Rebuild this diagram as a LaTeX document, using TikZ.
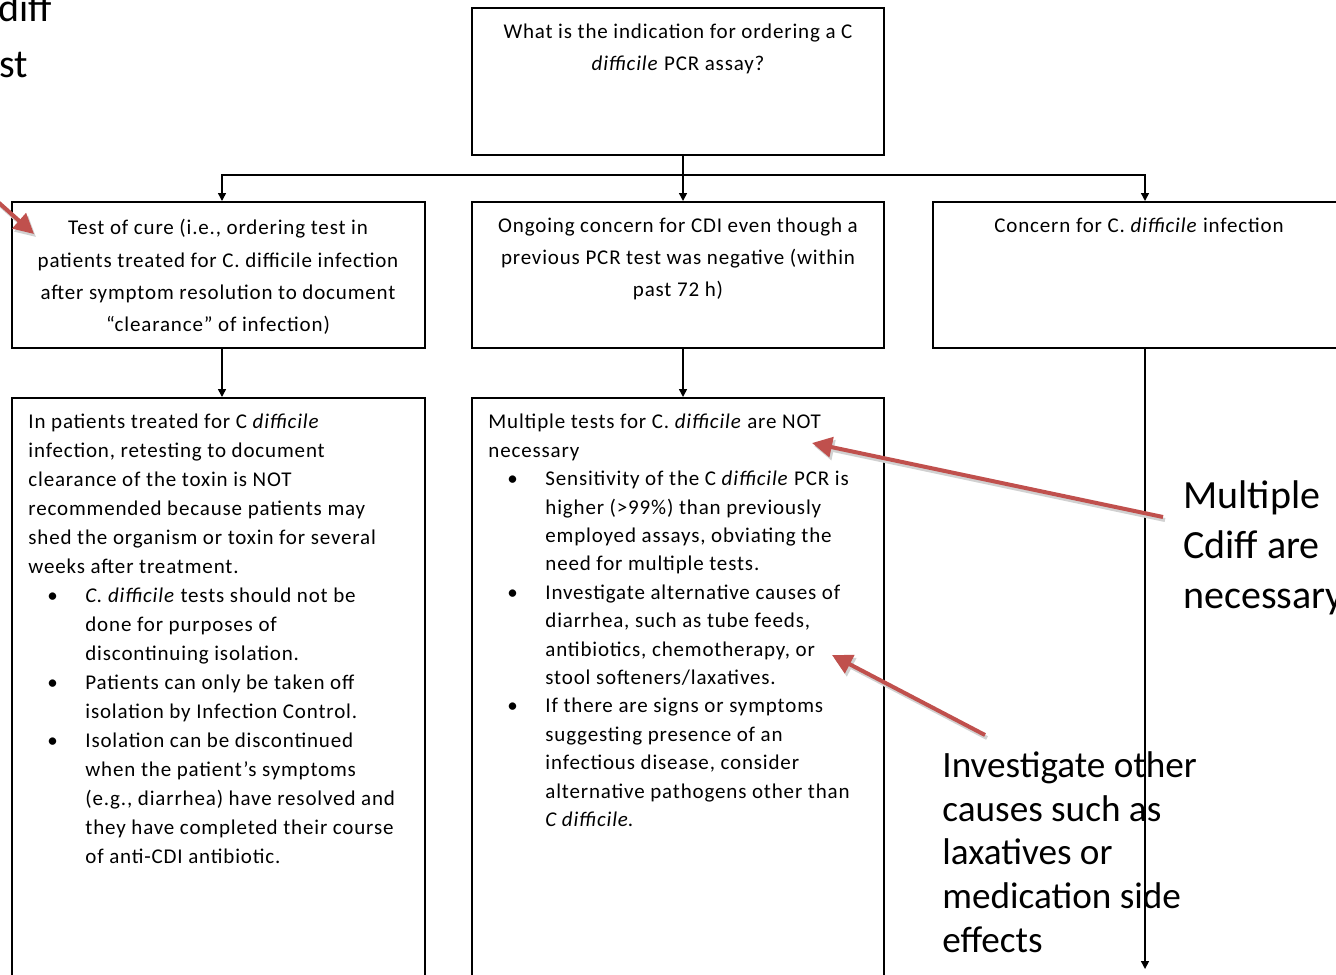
\documentclass[tikz,border=0pt]{standalone}
\usepackage{fontspec}
\setmainfont{Carlito}
\newfontfamily\boxfont[LetterSpace=4]{Carlito}
\usetikzlibrary{arrows.meta}
\definecolor{redarr}{RGB}{192,80,77}
\newcommand\bul{\makebox[28.5pt][l]{\hspace{9.5pt}\textbullet}}
\newcommand\ind{\hspace*{28.5pt}}
\begin{document}
\begin{tikzpicture}[x=0.5pt,y=-0.5pt,
 box/.style={draw,line width=1pt,rectangle,inner sep=0pt},
 conn/.style={line width=0.75pt,-{Triangle[length=4pt,width=4pt]}},
 plainline/.style={line width=0.75pt},
 callout/.style={line width=2pt,draw=redarr,-{Triangle[length=10pt,width=10pt]},
   preaction={draw=black!18,line width=2pt,transform canvas={shift={(2,3)}}}},
 boxtext/.style={font=\boxfont\fontsize{10.5pt}{16pt}\selectfont,inner sep=0pt,align=center},
 listtext/.style={inner sep=0pt,align=left},
 big/.style={font=\fontsize{20pt}{25pt}\selectfont,inner sep=0pt,align=left},
 mid/.style={font=\fontsize{18.6pt}{21.9pt}\selectfont,inner sep=0pt,align=left}
]
\useasboundingbox (0,0) rectangle (1336,974);
\fill[white] (0,0) rectangle (1336,974);
\clip (0,0) rectangle (1336,974);

% boxes
\node[box,minimum width=206pt,minimum height=73.5pt] (top) at (678,81.5) {};
\node[box,minimum width=206.5pt,minimum height=73pt] (A) at (218.5,275) {};
\node[box,minimum width=206pt,minimum height=73pt] (B) at (678,275) {};
\node[box,minimum width=212pt,minimum height=73pt] (C) at (1145,275) {};
\node[box,minimum width=206.5pt,minimum height=301pt] (D) at (218.5,699) {};
\node[box,minimum width=206pt,minimum height=301pt] (E) at (678,699) {};

% box texts
\node[boxtext,anchor=north] (toptxt) at (678,24) {What is the indication for ordering a C\\\textit{difficile} PCR assay?};
\node[boxtext,font=\boxfont\fontsize{10.5pt}{16.2pt}\selectfont,anchor=north] (Atxt) at (218,219) {Test of cure (i.e., ordering test in\\patients treated for C. difficile infection\\after symptom resolution to document\\“clearance” of infection)};
\node[boxtext,anchor=north] (Btxt) at (678,218) {Ongoing concern for CDI even though a\\previous PCR test was negative (within\\past 72 h)};
\node[boxtext,anchor=north] (Ctxt) at (1139,218) {Concern for C. \textit{difficile} infection};

\node[listtext,font=\boxfont\fontsize{10.5pt}{14.5pt}\selectfont,anchor=north west] (Dtxt) at (28,414) {In patients treated for C \textit{difficile}\\
infection, retesting to document\\
clearance of the toxin is NOT\\
recommended because patients may\\
shed the organism or toxin for several\\
weeks after treatment.\\
\bul\textit{C. difficile} tests should not be\\
\ind done for purposes of\\
\ind discontinuing isolation.\\
\bul Patients can only be taken off\\
\ind isolation by Infection Control.\\
\bul Isolation can be discontinued\\
\ind when the patient’s symptoms\\
\ind (e.g., diarrhea) have resolved and\\
\ind they have completed their course\\
\ind of anti-CDI antibiotic.};

\node[listtext,font=\boxfont\fontsize{10.5pt}{14.2pt}\selectfont,anchor=north west] (Etxt) at (488,414) {Multiple tests for C. \textit{difficile} are NOT\\
necessary\\
\bul Sensitivity of the C \textit{difficile} PCR is\\
\ind higher (>99\%) than previously\\
\ind employed assays, obviating the\\
\ind need for multiple tests.\\
\bul Investigate alternative causes of\\
\ind diarrhea, such as tube feeds,\\
\ind antibiotics, chemotherapy, or\\
\ind stool softeners/laxatives.\\
\bul If there are signs or symptoms\\
\ind suggesting presence of an\\
\ind infectious disease, consider\\
\ind alternative pathogens other than\\
\ind \textit{C difficile}.};

% connectors
\coordinate (j) at (683,175);
\coordinate (xa) at (222,0);
\coordinate (xc) at (1145,0);
\coordinate (cend) at (1145,969);
\draw[plainline] (j |- top.south) -- (j);
\draw[conn] (j) -| (A.north -| xa);
\draw[conn] (j) -- (j |- B.north);
\draw[conn] (j) -| (C.north -| xc);
\draw[conn] (A.south -| xa) -- (D.north -| xa);
\draw[conn] (B.south -| j) -- (E.north -| j);
\draw[conn] (C.south -| xc) -- (cend);

% side labels
\node[big,anchor=north west] (lbl1) at (1183,480) {Multiple\\Cdiff are\\necessary};
\node[mid,anchor=north west] (lbl2) at (942,751) {Investigate other\\causes such as\\laxatives or\\medication side\\effects};
\node[big,anchor=base west] (tl1) at (-2,22) {diff};
\node[big,anchor=base west] (tl2) at (-1,78) {st};

% red callouts
\coordinate (r1t) at (1163,517);
\coordinate (r1h) at (812,443);
\coordinate (r2t) at (985,735);
\coordinate (r2h) at (832,655);
\coordinate (r3t) at (-20,186);
\coordinate (r3h) at (34,234);
\draw[callout] (r1t) -- (r1h);
\draw[callout] (r2t) -- (r2h);
\draw[callout] (r3t) -- (r3h);
\end{tikzpicture}
\end{document}
